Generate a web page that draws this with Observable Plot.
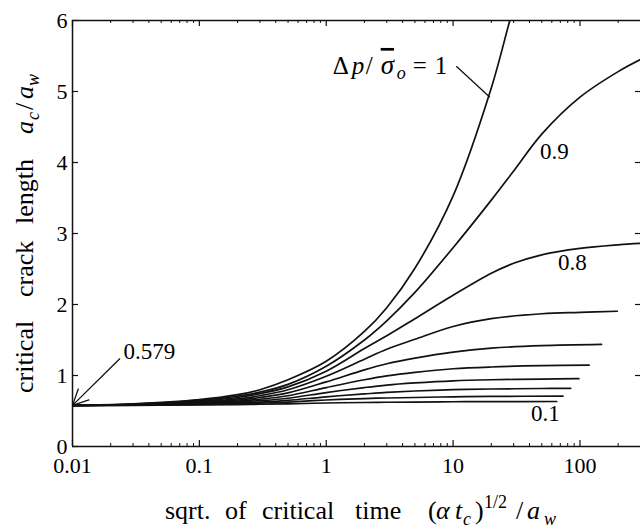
<!DOCTYPE html>
<html><head><meta charset="utf-8">
<script src="https://cdn.jsdelivr.net/npm/d3@7"></script>
<script src="https://cdn.jsdelivr.net/npm/@observablehq/plot@0.6"></script>
<style>html,body{margin:0;padding:0;background:#fff;} svg{display:block;} svg text{font-family:'Liberation Serif',serif !important;}</style>
</head><body><div id="chart"></div>
<script>
// ---- data ----
const ratios = [0.1, 0.2, 0.3, 0.4, 0.5, 0.6, 0.7, 0.8, 0.9, 1.0];
const xLow = [0.01, 0.03, 0.1, 0.2, 0.3, 0.5, 1, 2, 3, 5];
const x01 = [...xLow, 10, 20, 65.6];
const y01 = [0.579, 0.58, 0.585, 0.59, 0.595, 0.60, 0.613, 0.62, 0.623, 0.626, 0.63, 0.632, 0.634];
const x02 = [...xLow, 10, 20, 73.5];
const y02 = [0.579, 0.582, 0.592, 0.60, 0.61, 0.625, 0.655, 0.675, 0.683, 0.69, 0.70, 0.705, 0.71];
const x03 = [...xLow, 10, 20, 50, 84.5];
const y03 = [0.579, 0.584, 0.598, 0.613, 0.625, 0.65, 0.70, 0.74, 0.762, 0.782, 0.80, 0.81, 0.817, 0.82];
const x04 = [...xLow, 10, 20, 50, 98];
const y04 = [0.579, 0.586, 0.605, 0.625, 0.645, 0.68, 0.76, 0.83, 0.865, 0.895, 0.925, 0.94, 0.95, 0.955];
const x05 = [...xLow, 10, 20, 50, 118];
const y05 = [0.579, 0.588, 0.612, 0.64, 0.665, 0.715, 0.83, 0.94, 0.995, 1.045, 1.095, 1.12, 1.138, 1.145];
const x06 = [...xLow, 10, 20, 50, 148];
const y06 = [0.579, 0.59, 0.62, 0.655, 0.69, 0.755, 0.91, 1.08, 1.165, 1.245, 1.33, 1.385, 1.42, 1.437];
const x07 = [...xLow, 10, 20, 50, 100, 197];
const y07 = [0.579, 0.592, 0.63, 0.67, 0.715, 0.80, 0.99, 1.23, 1.37, 1.51, 1.69, 1.80, 1.87, 1.89, 1.905];
const x08 = [...xLow, 10, 20, 30, 50, 100, 200, 300];
const y08 = [0.579, 0.595, 0.64, 0.69, 0.745, 0.84, 1.06, 1.38, 1.56, 1.80, 2.13, 2.44, 2.58, 2.70, 2.79, 2.84, 2.86];
const x09 = [...xLow, 10, 20, 30, 50, 100, 200, 300];
const y09 = [0.579, 0.598, 0.65, 0.71, 0.765, 0.875, 1.13, 1.5, 1.77, 2.17, 2.80, 3.47, 3.88, 4.40, 4.92, 5.28, 5.45];
const x10 = [0.01, 0.03, 0.1, 0.2, 0.3, 0.5, 1, 2, 3, 5, 10, 20, 28, 32];
const y10 = [0.579, 0.60, 0.66, 0.73, 0.80, 0.94, 1.2, 1.62, 1.955, 2.51, 3.53, 5.05, 6.0, 6.35];
const curveX = [x01, x02, x03, x04, x05, x06, x07, x08, x09, x10];
const curveY = [y01, y02, y03, y04, y05, y06, y07, y08, y09, y10];

const xTickValues = [0.01, 0.1, 1, 10, 100];
const xTickLabels = ["0.01", "0.1", "1", "10", "100"];
const xMinorTicks = [0.02,0.03,0.04,0.05,0.06,0.07,0.08,0.09, 0.2,0.3,0.4,0.5,0.6,0.7,0.8,0.9,
                     2,3,4,5,6,7,8,9, 20,30,40,50,60,70,80,90, 200];
const yTickValues = [0, 1, 2, 3, 4, 5, 6];
const yRightTicks = [1, 2, 3, 4, 5];

const labelText = ["0.9", "0.8", "0.1", "0.579"];
const labelX = [48.4, 67.1, 41.1, 0.0252];
const labelY = [4.155, 2.585, 0.458, 1.331];
const arrowFrom = {x: 0.02357, y: 1.235};
const arrowTo = {x: 0.01, y: 0.579};
const leaderFrom = {x: 10.6, y: 5.356};
const leaderTo = {x: 19.5, y: 4.92};
const mainLabelPos = {x: 1.135, y: 5.24};

// ---- build rows ----
const rows = [];
ratios.forEach((r, i) => curveX[i].forEach((x, j) => rows.push({r, x, y: curveY[i][j]})));
const labels = labelText.map((t, i) => ({t, x: labelX[i], y: labelY[i]}));

const W = 640, H = 525, ML = 72, MR = 0, MT = 20, MB = 79;
const PW = W - ML - MR, PH = H - MT - MB;
const ink = "#111";
const fam = "'Liberation Serif', serif";

const plot = Plot.plot({
  width: W, height: H,
  marginLeft: ML, marginRight: MR, marginTop: MT, marginBottom: MB,
  style: `font-family: ${fam}; font-size: 22px; color: #000; background: #fff; overflow: visible;`,
  x: {type: "log", domain: [0.01, 300]},
  y: {domain: [0, 6]},
  marks: [
    Plot.line(rows, {x: "x", y: "y", z: "r", stroke: ink, strokeWidth: 1.7, curve: "catmull-rom", clip: true}),
    Plot.ruleY([0, 6], {stroke: ink, strokeWidth: 1.5}),
    Plot.ruleX([0.01], {stroke: ink, strokeWidth: 1.5}),
    Plot.tickX(xTickValues, {x: d => d, insetTop: PH - 6, stroke: ink, strokeWidth: 1.2}),
    Plot.tickX(xTickValues, {x: d => d, insetBottom: PH - 6, stroke: ink, strokeWidth: 1.2}),
    Plot.tickX(xMinorTicks, {x: d => d, insetTop: PH - 3, stroke: ink, strokeWidth: 1}),
    Plot.tickX(xMinorTicks, {x: d => d, insetBottom: PH - 3, stroke: ink, strokeWidth: 1}),
    Plot.tickY(yTickValues, {y: d => d, insetRight: PW - 6, stroke: ink, strokeWidth: 1.2}),
    Plot.tickY(yRightTicks, {y: d => d, insetLeft: PW - 5, stroke: ink, strokeWidth: 1.2}),
    Plot.axisX({ticks: xTickValues, tickSize: 0, tickPadding: 11, tickFormat: d => xTickLabels[xTickValues.indexOf(d)], label: null, fontSize: 22, fontFamily: fam}),
    Plot.axisY({ticks: yTickValues, tickSize: 0, tickPadding: 5, tickFormat: d => String(d), label: null, fontSize: 22, fontFamily: fam}),
    Plot.text(labels, {x: "x", y: "y", text: "t", textAnchor: "start", fontSize: 23, fontFamily: fam, fill: "#000"}),
    Plot.arrow([0], {x1: () => arrowFrom.x, y1: () => arrowFrom.y, x2: () => arrowTo.x, y2: () => arrowTo.y,
      headLength: 20, headAngle: 52, stroke: ink, strokeWidth: 1.3}),
    Plot.link([0], {x1: () => leaderFrom.x, y1: () => leaderFrom.y, x2: () => leaderTo.x, y2: () => leaderTo.y,
      stroke: ink, strokeWidth: 1.3})
  ]
});
document.getElementById("chart").appendChild(plot);

// ---- rich text (italics, sub/superscripts) ----
const svg = d3.select(plot);
svg.selectAll("text").attr("font-family", fam);
const sx = plot.scale("x"), sy = plot.scale("y");

function piece(t, x, txt, opts = {}) {
  const s = t.append("tspan").attr("x", x).text(txt);
  if (opts.italic) s.attr("font-style", "italic");
  if (opts.size) s.attr("font-size", opts.size);
  if (opts.y != null) s.attr("y", opts.y);
  if (opts.overline) s.style("text-decoration", "overline");
  return s;
}

// Δp/σ̄o = 1
{
  const x0 = sx.apply(mainLabelPos.x), y0 = sy.apply(mainLabelPos.y);
  const t = svg.append("text").attr("font-family", fam).attr("font-size", 25).attr("fill", "#000")
    .attr("text-anchor", "start").attr("y", y0);
  piece(t, x0, "Δ");
  piece(t, x0 + 19, "p", {italic: true});
  piece(t, x0 + 33, "/");
  piece(t, x0 + 48, "σ", {italic: true, overline: true, size: 27});
  piece(t, x0 + 64, "o", {italic: true, size: 18, y: y0 + 5});
  piece(t, x0 + 80, "=", {y: y0});
  piece(t, x0 + 102, "1", {y: y0});
}

// x title
{
  const yb = 519;
  const t = svg.append("text").attr("font-family", fam).attr("font-size", 26).attr("fill", "#000")
    .attr("text-anchor", "start").attr("y", yb);
  piece(t, 165, "sqrt.");
  piece(t, 225, "of");
  piece(t, 262, "critical");
  piece(t, 355, "time");
  piece(t, 428, "(");
  piece(t, 436, "α", {italic: true});
  piece(t, 455, "t", {italic: true});
  piece(t, 463, "c", {italic: true, size: 18, y: yb + 6});
  piece(t, 475, ")", {y: yb});
  piece(t, 484, "1/2", {size: 18, y: yb - 11});
  piece(t, 516, "/", {y: yb});
  piece(t, 527, "a", {italic: true});
  piece(t, 544, "w", {italic: true, size: 18, y: yb + 6});
}

// y title (rotated)
{
  const t = svg.append("text").attr("font-family", fam).attr("font-size", 26).attr("fill", "#000")
    .attr("text-anchor", "start")
    .attr("transform", "translate(33,0) rotate(-90)").attr("y", 0);
  piece(t, -393, "critical");
  piece(t, -297, "crack");
  piece(t, -224, "length");
  piece(t, -134, "a", {italic: true});
  piece(t, -120, "c", {italic: true, size: 18, y: 6});
  piece(t, -110, "/", {y: 0});
  piece(t, -99, "a", {italic: true});
  piece(t, -86, "w", {italic: true, size: 18, y: 6});
}
</script>
</body></html>
